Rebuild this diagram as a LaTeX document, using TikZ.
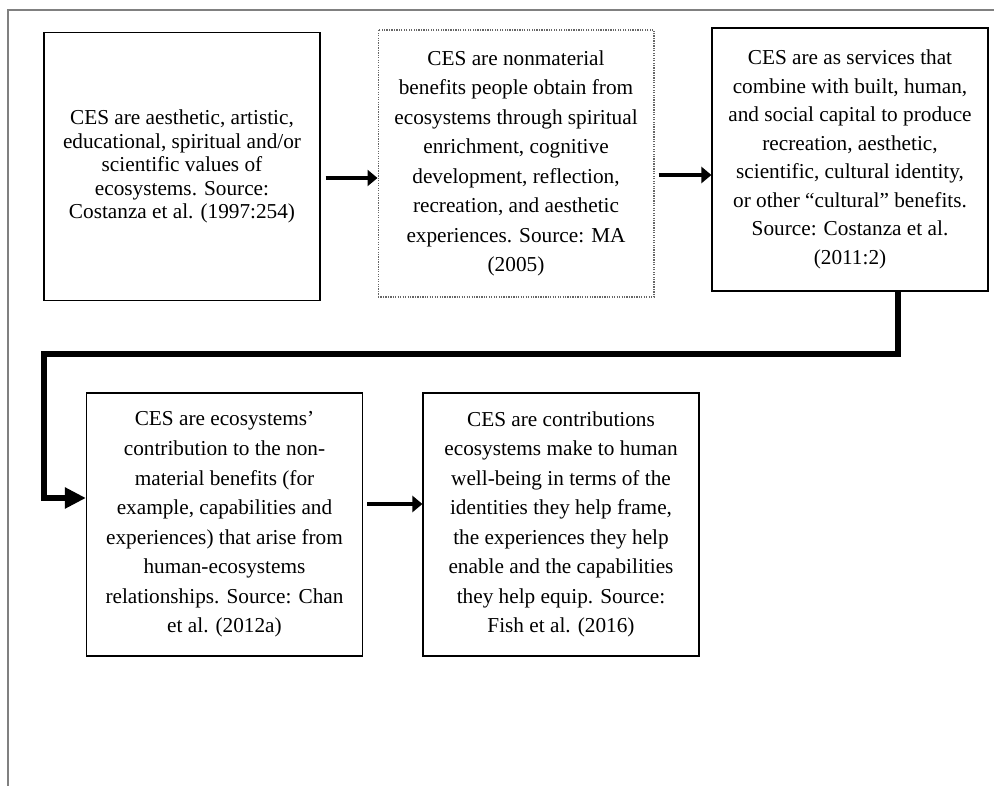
\documentclass[tikz,border=0pt]{standalone}
\usepackage{fontspec}
\setmainfont{Liberation Serif}
\usetikzlibrary{arrows.meta,calc}

\newcommand{\tightfont}{\fontsize{12.1pt}{13.4pt}\selectfont}
\newcommand{\loosefont}{\fontsize{12.1pt}{16.8pt}\selectfont}
\newcommand{\midfont}{\fontsize{12.1pt}{16.2pt}\selectfont}

\tikzset{
  cesbox/.style={draw=black, line width=0.7pt, align=center, inner sep=0pt, minimum width=5.52cm},
  dotbox/.style={cesbox, draw=black!60, line width=0.6pt, dash pattern=on 0.7pt off 0.7pt},
  linkarrow/.style={line width=0.09cm, -{Triangle[length=0.2cm, width=0.32cm]}},
  bendarrow/.style={line width=0.12cm, line join=miter, -{Triangle[length=0.42cm, width=0.4cm]}},
  framestyle/.style={draw=black!50, line width=0.03cm}
}

\begin{document}
\begin{tikzpicture}[x={(0.02cm,0cm)}, y={(0cm,-0.02cm)}]

       \pgfmathsetmacro{\boxHigh}{263*0.02}
       \pgfmathsetmacro{\boxHighTop}{268*0.02}

       \useasboundingbox (0,0) rectangle (994,786);

       %% frame lines on the left and at the top
       \coordinate (FrameBot) at (8,786);
       \coordinate (FrameTop) at (8,10);
       \coordinate (FrameEnd) at (994,10);
       \draw [framestyle] (FrameBot) -- (FrameTop) -- (FrameEnd);

       %% first row
       \node [cesbox, minimum height=\boxHighTop cm, font=\tightfont] (Def1997) at (182,166.5)
       {CES are aesthetic, artistic,\\ educational, spiritual and/or\\ scientific values of\\ ecosystems. Source:\\ Costanza et al. (1997:254)};
       \node [dotbox, minimum height=267*0.02cm, font=\loosefont] (Def2005) at (516,163.5)
       {CES are nonmaterial\\ benefits people obtain from\\ ecosystems through spiritual\\ enrichment, cognitive\\ development, reflection,\\ recreation, and aesthetic\\ experiences. Source: MA\\ (2005)};
       \node [cesbox, minimum height=\boxHigh cm, font=\midfont] (Def2011) at (850,159.5)
       {CES are as services that\\ combine with built, human,\\ and social capital to produce\\ recreation, aesthetic,\\ scientific, cultural identity,\\ or other “cultural” benefits.\\ Source: Costanza et al.\\ (2011:2)};

       %% second row
       \node [cesbox, minimum height=\boxHigh cm, font=\loosefont] (Def2012) at (224.5,524.5)
       {CES are ecosystems’\\ contribution to the non-\\ material benefits (for\\ example, capabilities and\\ experiences) that arise from\\ human-ecosystems\\ relationships. Source: Chan\\ et al. (2012a)};
       \node [cesbox, minimum height=\boxHigh cm, font=\loosefont] (Def2016) at (561,524.5)
       {CES are contributions\\ ecosystems make to human\\ well-being in terms of the\\ identities they help frame,\\ the experiences they help\\ enable and the capabilities\\ they help equip. Source:\\ Fish et al. (2016)};

       \draw [linkarrow] ($(Def1997.east |- 0,178)+(5,0)$) -- (Def2005.west |- 0,178);
       \draw [linkarrow] ($(Def2005.east |- 0,175)+(4,0)$) -- (Def2011.west |- 0,175);
       \draw [bendarrow] (Def2011.south -| 898,0) |- (44,354) |- (Def2012.west |- 0,498);
       \draw [linkarrow] ($(Def2012.east |- 0,504)+(4,0)$) -- (Def2016.west |- 0,504);
    \end{tikzpicture}
\end{document}
